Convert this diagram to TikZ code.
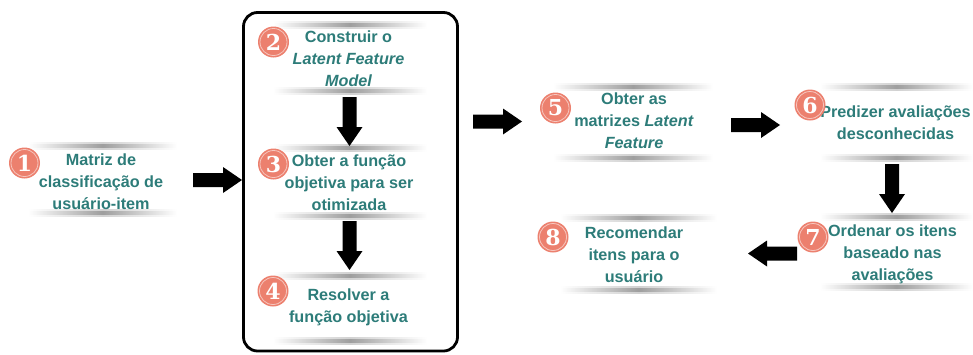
\documentclass[tikz,border=0pt]{standalone}
\usepackage{fontspec}
\setmainfont{Liberation Sans}
\newfontfamily\numfont{DejaVu Serif}
\definecolor{tealtxt}{RGB}{45,124,121}
\definecolor{salmon}{RGB}{236,128,110}
\tikzset{
  txt/.style={text=tealtxt, font=\fontsize{16.2}{22}\selectfont\bfseries, align=center, inner sep=0pt},
  badge/.style={circle, fill=salmon, minimum size=31pt, inner sep=0pt, text=white,
    font=\numfont\fontsize{22}{22}\selectfont\bfseries},
  ring/.style={salmon!45!white, line width=0.8pt},
  barrow/.pic={\fill[black] (0,-7) -- (30,-7) -- (30,-13) -- (49,0) -- (30,13) -- (30,7) -- (0,7) -- cycle;},
  frame/.style={line width=2.8pt, rounded corners=14pt}
}
\newcommand\shline[3]{%
  \shade[left color=white, right color=white, middle color=black!18] (#1,#3-3.5) rectangle (#2,#3+3.5);
  \shade[left color=white, right color=white, middle color=black!38] (#1,#3-1.3) rectangle (#2,#3+1.3);}
\begin{document}
\begin{tikzpicture}[x=1pt,y=-1pt]
\useasboundingbox (0,0) rectangle (973,354);
% frame
\draw[frame] (243.5,12.5) rectangle (457.5,351);
% shadow lines
\shline{28}{177}{146}\shline{28}{177}{213}
\shline{273}{427}{25}\shline{273}{427}{91}
\shline{273}{427}{148}\shline{273}{427}{216}
\shline{273}{427}{276}\shline{273}{427}{341}
\shline{553}{713}{87}\shline{553}{713}{158}
\shline{820}{973}{87}\shline{820}{973}{158}
\shline{820}{973}{217}\shline{820}{973}{287}
\shline{560}{717}{218}\shline{560}{717}{290}
% texts
\node[txt] (b1) at (101,181.5) {Matriz de\\classificação de\\usuário-item};
\node[txt] (b2) at (348.5,58.5) {Construir o\\\itshape Latent Feature\\\itshape Model};
\node[txt] (b3) at (349,183) {Obter a função\\objetiva para ser\\otimizada};
\node[txt] (b4) at (348.5,307.5) {Resolver a\\função objetiva};
\node[txt] (b5) at (634,120.5) {Obter as\\matrizes \textit{Latent}\\\itshape Feature};
\node[txt] (b6) at (895.5,123) {Predizer avaliações\\desconhecidas};
\node[txt] (b7) at (892.5,254) {Ordenar os itens\\baseado nas\\avaliações};
\node[txt] (b8) at (634,255) {Recomendar\\itens para o\\usuário};
% badges
\foreach \n/\x/\y in {1/24.5/163, 2/273.5/42, 3/273.5/164, 4/273/291, 5/555.5/108, 6/810/105, 7/813/237, 8/553/237}{
  \node[badge] (n\n) at (\x,\y) {\n};
  \draw[ring] (n\n.center) circle (13.5);
}
% block arrows
\pic at (193,180) {barrow};
\pic at (473,121.5) {barrow};
\pic at (731,125) {barrow};
\pic[rotate=-90] at (349.5,97) {barrow};
\pic[rotate=-90] at (349.5,221) {barrow};
\pic[rotate=-90] at (892,164) {barrow};
\pic[rotate=180] at (797,253.5) {barrow};
\end{tikzpicture}
\end{document}
